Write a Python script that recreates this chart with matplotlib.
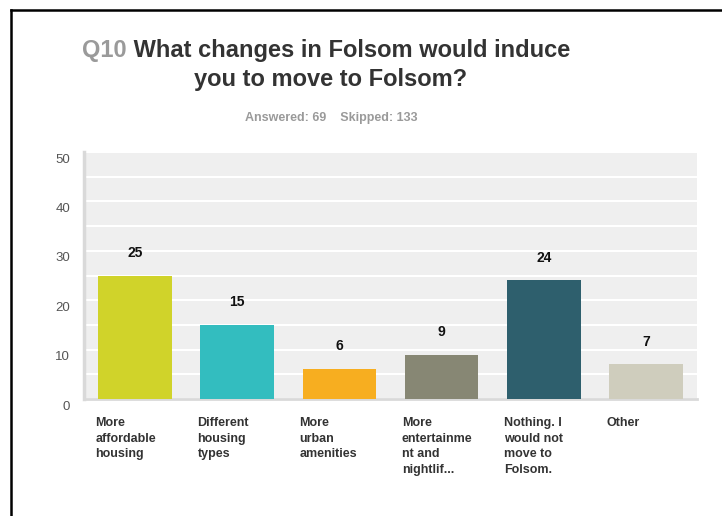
import matplotlib
matplotlib.use('Agg')
import matplotlib.pyplot as plt
from matplotlib.lines import Line2D
from matplotlib import transforms
import numpy as np

plt.rcParams['font.family'] = ['Liberation Sans', 'DejaVu Sans']

# Data
categories = ['More\naffordable\nhousing', 'Different\nhousing\ntypes', 'More\nurban\namenities',
              'More\nentertainme\nnt and\nnightlif...', 'Nothing. I\nwould not\nmove to\nFolsom.', 'Other']
values = [25, 15, 6, 9, 24, 7]
colors = ['#d0d32a', '#33bdbf', '#f7ae20', '#878774', '#2e5f6d', '#cfcdbd']
y_ticks = [0, 10, 20, 30, 40, 50]

W, H = 722, 516
fig = plt.figure(figsize=(W / 100, H / 100), dpi=100)
ax = fig.add_axes([84 / W, 1 - 399 / H, (697 - 84) / W, (399 - 152) / H])

x = np.arange(len(values))
bar_w = 0.72
ax.bar(x, values, width=bar_w, color=colors, zorder=3)

# value labels above bars
for xi, v in zip(x, values):
    ax.annotate(str(v), (xi, v), xytext=(0, 16.5), textcoords='offset points',
                ha='center', va='center', fontsize=10, fontweight='bold', color='#111111')

ax.set_xlim(-0.5, len(values) - 0.5)
ax.set_ylim(0, 50)
ax.set_facecolor('#efefef')
ax.set_yticks(y_ticks)
ax.set_yticks(np.arange(5, 50, 5), minor=True)
ax.grid(True, axis='y', which='both', color='white', linewidth=1.5, zorder=1)
ax.tick_params(axis='y', which='both', length=0, labelsize=9.5, labelcolor='#555555', pad=10)
for lab in ax.get_yticklabels():
    lab.set_transform(lab.get_transform() + transforms.ScaledTranslation(0, -6 / 100, fig.dpi_scale_trans))

ax.set_xticks(x - bar_w / 2 - 0.03)
ax.set_xticklabels(categories, ha='left', va='top', fontsize=9, fontweight='bold',
                   color='#333333', linespacing=1.4)
ax.tick_params(axis='x', length=0, pad=13)

for s in ['top', 'right']:
    ax.spines[s].set_visible(False)
ax.spines['left'].set_color('#d9d9d9')
ax.spines['left'].set_linewidth(2.5)
ax.spines['bottom'].set_color('#d9d9d9')
ax.spines['bottom'].set_linewidth(2)

# Title: gray question number, dark question text
q = fig.text(82 / W, 1 - 57 / H, 'Q10', fontsize=17, fontweight='bold', color='#9a9a9a',
             ha='left', va='baseline')
ax.annotate(' What changes in Folsom would induce', xy=(1, 0), xycoords=q,
            fontsize=17, fontweight='bold', color='#333333', ha='left', va='bottom',
            annotation_clip=False)
fig.text(331 / W, 1 - 86 / H, 'you to move to Folsom?', fontsize=17, fontweight='bold',
         color='#333333', ha='center', va='baseline')
fig.text(331 / W, 1 - 118 / H, 'Answered: 69    Skipped: 133', fontsize=9, fontweight='bold',
         color='#9a9a9a', ha='center', va='center')

# Border lines of the screenshot frame
fig.add_artist(Line2D([11 / W, 1], [1 - 10 / H, 1 - 10 / H], color='black', linewidth=1.8,
                      transform=fig.transFigure))
fig.add_artist(Line2D([11 / W, 11 / W], [0, 1 - 10 / H], color='black', linewidth=1.8,
                      transform=fig.transFigure))

fig.savefig('out.png', dpi=100, facecolor='white')
